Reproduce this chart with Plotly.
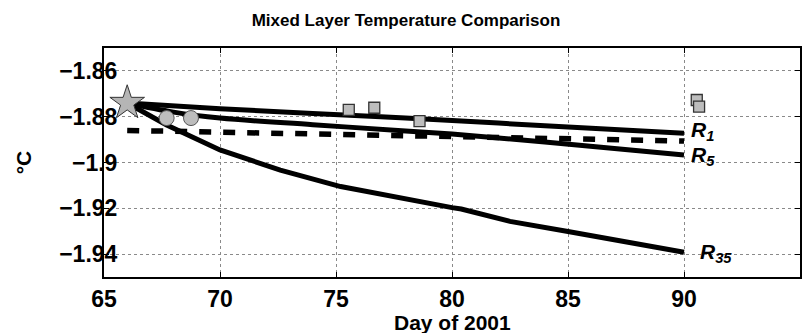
import plotly.graph_objects as go

# ---- data ----
r1_day = [66, 70, 74, 78, 82, 86, 90]
r1_temp = [-1.8740, -1.8765, -1.8786, -1.8806, -1.8828, -1.8850, -1.8872]

r5_day = [66, 68, 70, 74, 78, 80, 84, 90]
r5_temp = [-1.8740, -1.8780, -1.8806, -1.8835, -1.8862, -1.8876, -1.8910, -1.8967]

r35_day = [66, 67.7, 70, 72.6, 75.2, 77.8, 80, 80.4, 82.5, 85, 87.5, 90]
r35_temp = [-1.8740, -1.8836, -1.8945, -1.9033, -1.9105, -1.9157, -1.9197, -1.9203,
            -1.9257, -1.9301, -1.9347, -1.9392]

obs_day = [66, 90]
obs_temp = [-1.8860, -1.8906]

star_day = [66]
star_temp = [-1.8740]

circle_day = [67.7, 68.75]
circle_temp = [-1.8806, -1.8806]

square_day = [75.55, 76.65, 78.6, 90.55, 90.65]
square_temp = [-1.8770, -1.8761, -1.8819, -1.8727, -1.8756]

label_text = ["R1", "R5", "R35"]
label_day = [90.2, 90.2, 90.6]
label_temp = [-1.8855, -1.8965, -1.9387]

x_ticks = [65, 70, 75, 80, 85, 90, 95]
y_ticks = [-1.86, -1.88, -1.90, -1.92, -1.94]
y_tick_text = ["\u22121.86", "\u22121.88", "\u22121.9", "\u22121.92", "\u22121.94"]

FONT = "Arial"

fig = go.Figure()
line_style = dict(color="black", width=5)
fig.add_trace(go.Scatter(x=r1_day, y=r1_temp, mode="lines", line=line_style, line_shape="spline"))
fig.add_trace(go.Scatter(x=r5_day, y=r5_temp, mode="lines", line=line_style, line_shape="spline"))
fig.add_trace(go.Scatter(x=r35_day, y=r35_temp, mode="lines", line=line_style))
fig.add_trace(go.Scatter(x=obs_day, y=obs_temp, mode="lines",
                         line=dict(color="black", width=5.5, dash="12px,12px")))
fig.add_trace(go.Scatter(x=circle_day, y=circle_temp, mode="markers",
                         marker=dict(symbol="circle", size=15, color="#bdbdbd",
                                     line=dict(color="#555555", width=1))))
fig.add_trace(go.Scatter(x=square_day, y=square_temp, mode="markers",
                         marker=dict(symbol="square", size=11, color="#bdbdbd",
                                     line=dict(color="#333333", width=1.3))))
fig.add_trace(go.Scatter(x=star_day, y=star_temp, mode="markers",
                         marker=dict(symbol="star", size=26, color="#b5b5b5",
                                     line=dict(color="#333333", width=1))))

for t, xd, yd in zip(label_text, label_day, label_temp):
    base, sub = t[0], t[1:]
    fig.add_annotation(x=xd, y=yd, xref="x", yref="y", showarrow=False,
                       xanchor="left", yanchor="middle", yshift=-2,
                       text=f"<b><i>{base}</i></b><sub><b><i>{sub}</i></b></sub>",
                       font=dict(family=FONT, size=21, color="black"))

# x-axis title placed below the tick labels
fig.add_annotation(x=0.5, y=-0.197, xref="paper", yref="paper", showarrow=False,
                   xanchor="center", yanchor="middle",
                   text="<b>Day of 2001</b>", font=dict(family=FONT, size=21, color="black"))

axis_common = dict(showline=True, linecolor="black", linewidth=2, mirror="allticks",
                   ticks="inside", ticklen=5, tickwidth=1, tickcolor="black",
                   showgrid=True, gridcolor="#8a8a8a", gridwidth=1, griddash="dot",
                   zeroline=False, automargin=False)

fig.update_xaxes(range=[65, 95], tickmode="array", tickvals=x_ticks,
                 ticktext=[f"<b>{v}</b>" for v in x_ticks],
                 **axis_common)
fig.update_yaxes(range=[-1.95, -1.85], tickmode="array", tickvals=y_ticks,
                 ticktext=[f"<b>{s}</b>" for s in y_tick_text],
                 ticklabelstandoff=-20,
                 title=dict(text="<b>\u00b0C</b>",
                            font=dict(family=FONT, size=21, color="black"),
                            standoff=22),
                 **axis_common)
fig.update_xaxes(tickfont=dict(family=FONT, size=23, color="black"))
fig.update_yaxes(tickfont=dict(family=FONT, size=23, color="black"))

fig.update_layout(
    width=812, height=333,
    margin=dict(l=104, r=12, t=48, b=56),
    paper_bgcolor="white", plot_bgcolor="white",
    showlegend=False,
    font=dict(family=FONT, size=21, color="black"),
    title=dict(text="<b>Mixed Layer Temperature Comparison</b>", x=0.5, xanchor="center",
               y=0.94, yanchor="middle",
               font=dict(family=FONT, size=17, color="black")),
)

fig.write_html("out.html")
